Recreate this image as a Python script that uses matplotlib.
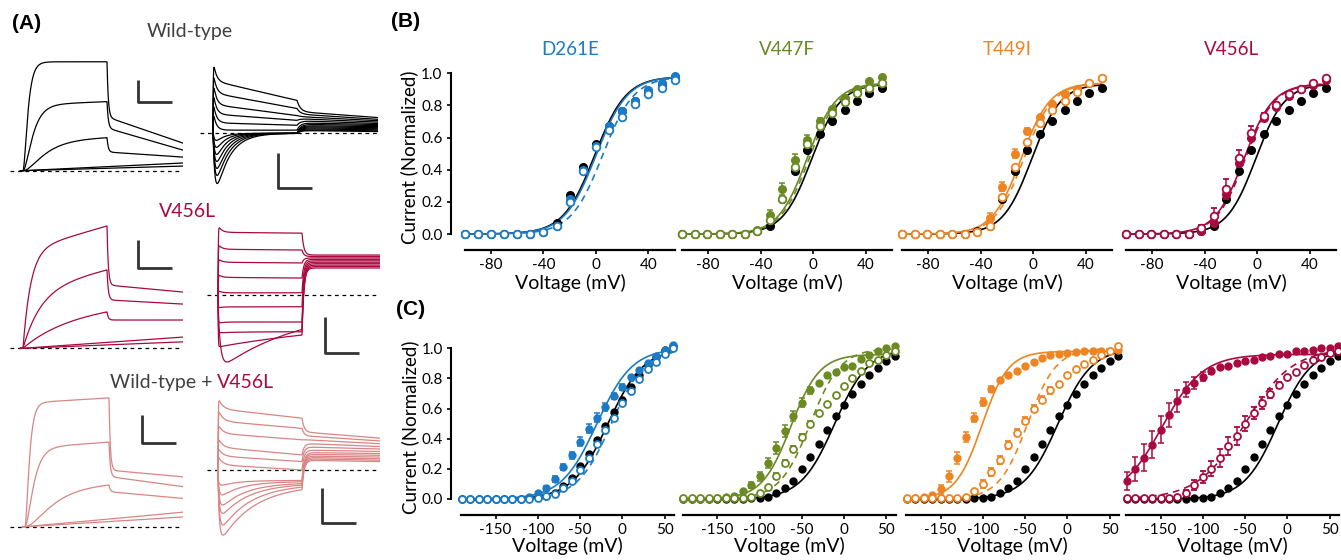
import numpy as np
import matplotlib.pyplot as plt

W, H = 1341, 560
plt.rcParams['font.family'] = ['Lato', 'DejaVu Sans']
plt.rcParams['axes.unicode_minus'] = False

BLUE = '#1b7bc4'
OLIVE = '#6b8a23'
ORANGE = '#ee8523'
CRIMSON = '#a80a40'
PINK = '#d98585'
GRAY = '#404040'

# ---------------- panel B: voltage steps (mV) and normalized currents ----------------
B_V_D261E = [-100, -90, -80, -70, -60, -50, -40, -30, -20, -10, 0, 10, 20, 30, 40, 50, 60]
B_V = [-99.5, -90, -80.5, -71, -61.5, -52, -42.5, -33, -23.5, -14, -4.5, 5, 14.5, 24, 33.5, 43, 52.5]

b_wt_d261e = [0, 0, 0, 0, 0, 0, 0.01, 0.066, 0.24, 0.42, 0.56, 0.67, 0.765, 0.83, 0.89, 0.935, 0.98]
b_wt = [0, 0, 0, 0, 0, 0, 0.02, 0.05, 0.22, 0.39, 0.52, 0.625, 0.705, 0.77, 0.825, 0.875, 0.91]

b_mut_d261e = [0, 0, 0, 0, 0, 0, 0.01, 0.05, 0.215, 0.40, 0.55, 0.675, 0.765, 0.83, 0.895, 0.94, 0.985]
b_het_d261e = [0, 0, 0, 0, 0, 0, 0.01, 0.05, 0.20, 0.39, 0.54, 0.647, 0.73, 0.81, 0.87, 0.91, 0.96]
b_mut_v447f = [0, 0, 0, 0, 0, 0, 0.025, 0.12, 0.28, 0.46, 0.585, 0.705, 0.78, 0.845, 0.905, 0.95, 0.98]
b_het_v447f = [0, 0, 0, 0, 0, 0, 0.02, 0.09, 0.22, 0.42, 0.56, 0.67, 0.755, 0.82, 0.875, 0.91, 0.94]
b_mut_t449i = [0, 0, 0, 0, 0, 0, 0.01, 0.10, 0.295, 0.50, 0.64, 0.73, 0.81, 0.87, 0.90, 0.94, 0.97]
b_het_t449i = [0, 0, 0, 0, 0, 0, 0.01, 0.05, 0.23, 0.42, 0.575, 0.69, 0.77, 0.83, 0.885, 0.94, 0.97]
b_mut_v456l = [0, 0, 0, 0, 0, 0, 0.02, 0.07, 0.25, 0.44, 0.60, 0.72, 0.79, 0.86, 0.90, 0.93, 0.96]
b_het_v456l = [0, 0, 0, 0, 0, 0, 0.035, 0.11, 0.28, 0.47, 0.63, 0.735, 0.80, 0.87, 0.905, 0.94, 0.97]

b_zero = [0] * 17
b_err_mut_v447f = [0, 0, 0, 0, 0, 0, 0, 0.03, 0.04, 0.04, 0.03, 0.015, 0, 0, 0, 0, 0]
b_err_mut_t449i = [0, 0, 0, 0, 0, 0, 0, 0.03, 0.03, 0.03, 0.02, 0, 0, 0, 0, 0, 0]
b_err_het_v456l = [0, 0, 0, 0, 0, 0, 0.02, 0.05, 0.06, 0.05, 0.04, 0.02, 0.02, 0, 0, 0, 0]

# Boltzmann fits: (V1/2, slope k, amplitude)
B_FIT_WT = [(-1, 12, 0.98), (-1, 11, 0.935), (-1, 11, 0.935), (-1, 11, 0.935)]
B_FIT_MUT = [(0, 12, 0.98), (-4.5, 11, 0.94), (-9, 11, 0.94), (-10, 11, 0.935)]
B_FIT_HET = [(5, 12, 0.98), (-3, 11, 0.935), (-7, 11, 0.94), (-9, 11, 0.935)]

# ---------------- panel C ----------------
C_V = [-190, -180, -170, -160, -150, -140, -130, -120, -110, -100, -90, -80, -70,
       -60, -50, -40, -30, -20, -10, 0, 10, 20, 30, 40, 50, 60]

c_wt_d261e = [0, 0, 0, 0, 0, 0, 0, 0, 0.005, 0.01, 0.02, 0.04, 0.085, 0.14, 0.22, 0.30,
              0.39, 0.485, 0.575, 0.66, 0.74, 0.82, 0.89, 0.945, 0.99, 1.015]
c_wt = [0, 0, 0, 0, 0, 0, 0, 0, 0.005, 0.005, 0.015, 0.04, 0.07, 0.12, 0.20, 0.28,
        0.365, 0.46, 0.55, 0.625, 0.70, 0.765, 0.82, 0.87, 0.915, 0.95]

c_mut_d261e = [0, 0, 0, 0, 0, 0, 0, 0, 0.015, 0.04, 0.07, 0.13, 0.21, 0.29, 0.38, 0.465,
               0.54, 0.61, 0.685, 0.74, 0.81, 0.855, 0.905, 0.95, 0.99, 1.02]
c_het_d261e = [0, 0, 0, 0, 0, 0, 0, 0, 0, 0.005, 0.02, 0.03, 0.07, 0.12, 0.19, 0.275,
               0.365, 0.455, 0.54, 0.635, 0.715, 0.795, 0.86, 0.91, 0.96, 1.0]
c_mut_v447f = [0, 0, 0, 0, 0.005, 0.01, 0.02, 0.05, 0.09, 0.15, 0.24, 0.34, 0.45, 0.55,
               0.64, 0.72, 0.77, 0.82, 0.845, 0.875, 0.885, 0.93, 0.955, 0.98, 1.0, 1.015]
c_het_v447f = [0.005, 0.005, 0.005, 0.005, 0.005, 0.005, 0.005, 0.005, 0.015, 0.04, 0.08,
               0.15, 0.24, 0.33, 0.41, 0.50, 0.57, 0.63, 0.69, 0.75, 0.80, 0.85, 0.90,
               0.925, 0.955, 0.985]
c_mut_t449i = [0, 0.005, 0.01, 0.025, 0.065, 0.15, 0.27, 0.41, 0.54, 0.645, 0.73, 0.79,
               0.82, 0.85, 0.88, 0.91, 0.935, 0.955, 0.965, 0.97, 0.975, 0.98, 0.98,
               0.98, 0.985, 0.99]
c_het_t449i = [0.005, 0.005, 0.005, 0.005, 0.005, 0.005, 0.005, 0.01, 0.05, 0.10, 0.18,
               0.26, 0.36, 0.44, 0.52, 0.60, 0.66, 0.72, 0.76, 0.82, 0.86, 0.895, 0.92,
               0.955, 0.985, 1.015]
c_mut_v456l = [0.12, 0.20, 0.275, 0.36, 0.46, 0.56, 0.65, 0.725, 0.77, 0.81, 0.85, 0.875,
               0.885, 0.90, 0.915, 0.925, 0.94, 0.95, 0.96, 0.965, 0.98, 0.98, 0.99, 1.0,
               1.005, 1.015]
c_het_v456l = [0.005, 0.005, 0.005, 0.005, 0.005, 0.005, 0.015, 0.037, 0.093, 0.144, 0.20,
               0.27, 0.35, 0.42, 0.50, 0.573, 0.635, 0.70, 0.757, 0.81, 0.845, 0.89,
               0.92, 0.945, 0.967, 0.98]

c_zero = [0] * 26
c_err_mut_d261e = [0, 0, 0, 0, 0, 0, 0, 0, 0, 0, 0.015, 0.02, 0.02, 0.025, 0.03, 0.03,
                   0.03, 0.025, 0.02, 0.02, 0, 0, 0, 0, 0, 0]
c_err_mut_v447f = [0, 0, 0, 0, 0, 0, 0, 0.01, 0.02, 0.03, 0.035, 0.04, 0.04, 0.035, 0.03,
                   0.02, 0, 0, 0, 0, 0, 0, 0, 0, 0, 0]
c_err_het_v447f = [0, 0, 0, 0, 0, 0, 0, 0, 0, 0, 0, 0.02, 0.02, 0.02, 0.02, 0.02, 0, 0,
                   0, 0, 0, 0, 0, 0, 0, 0]
c_err_mut_t449i = [0, 0, 0, 0, 0.03, 0.035, 0.04, 0.035, 0.03, 0.025, 0.02, 0, 0, 0, 0,
                   0, 0, 0, 0, 0, 0, 0, 0, 0, 0, 0]
c_err_het_t449i = [0, 0, 0, 0, 0, 0, 0, 0, 0, 0.025, 0.025, 0.025, 0.025, 0.025, 0.025,
                   0.025, 0.025, 0.025, 0, 0, 0, 0, 0, 0, 0, 0]
c_err_mut_v456l = [0.06, 0.08, 0.09, 0.09, 0.09, 0.08, 0.07, 0.05, 0.04, 0.03, 0.02, 0,
                   0, 0, 0, 0, 0, 0, 0, 0, 0, 0, 0, 0, 0, 0]
c_err_het_v456l = [0, 0, 0, 0, 0, 0, 0, 0.02, 0.03, 0.04, 0.05, 0.06, 0.06, 0.06, 0.05,
                   0.04, 0.04, 0.03, 0.02, 0, 0, 0, 0, 0, 0, 0]

C_FIT_WT = [(-17, 21, 1.0), (-11, 20, 1.0), (-11, 20, 1.0), (-11, 20, 1.0)]
C_FIT_MUT = [(-30, 21, 1.0), (-63, 17, 0.96), (-101, 15.5, 0.98), (-148, 24, 0.96)]
C_FIT_HET = [(-13, 20, 1.0), (-40, 18, 1.0), (-47, 17, 1.0), (-50, 28, 1.0)]

MUTANTS = ['D261E', 'V447F', 'T449I', 'V456L']
MUT_COLORS = [BLUE, OLIVE, ORANGE, CRIMSON]

# ---------------- panel A: current traces (nA, ms) ----------------
# activation family: amplitude at end of 1 s step, tau (ms), power, creep, tail start, tail end
wt_act_amp = [4.95, 3.14, 1.50, 0.18, 0.11]
wt_act_tau = [45, 90, 200, 1e5, 1e5]
wt_act_pow = [2, 2, 2, 1, 1]
wt_act_creep = [0.0, 0.05, 0.1, 0, 0]
wt_act_tail0 = [2.44, 1.94, 0.85, 0.18, 0.11]
wt_act_tail1 = [1.26, 0.94, 0.62, 0.35, 0.21]

mu_act_amp = [4.37, 2.80, 1.30, 0.21, 0.12]
mu_act_tau = [90, 200, 450, 1e5, 1e5]
mu_act_pow = [1, 1, 1, 1, 1]
mu_act_creep = [0.2, 0.25, 0.2, 0, 0]
mu_act_tail0 = [2.26, 1.73, 1.01, 0.21, 0.12]
mu_act_tail1 = [2.01, 1.58, 1.01, 0.40, 0.23]

co_act_amp = [4.60, 3.02, 1.49, 0.27, 0.18]
co_act_tau = [40, 80, 250, 1e5, 1e5]
co_act_pow = [2, 2, 2, 1, 1]
co_act_creep = [0.04, 0.07, 0.1, 0, 0]
co_act_tail0 = [2.02, 1.79, 1.25, 0.27, 0.18]
co_act_tail1 = [1.78, 1.43, 1.01, 0.52, 0.35]

# deactivation family: initial current, step level start/end, rise and decay tau, tail level start/end
wt_deact_i0 = [2.03, 1.71, 1.43, 1.14, 0.86, 0.57, -0.2, -0.4, -0.6, -0.8, -1.0, -1.2, -1.43]
wt_deact_sa = [1.50, 1.15, 0.82, 0.55, 0.30, 0.09, 0, 0, 0, 0, 0, 0, 0]
wt_deact_sb = [0.94, 0.71, 0.51, 0.37, 0.23, 0.09, 0, 0, 0, 0, 0, 0, 0]
wt_deact_tr = [1, 1, 1, 1, 1, 1, 25, 25, 25, 25, 25, 25, 25]
wt_deact_td = [35, 35, 35, 35, 35, 35, 100, 110, 120, 130, 140, 150, 160]
wt_deact_L0 = [0.62, 0.55, 0.48, 0.42, 0.36, 0.30, 0.26, 0.22, 0.19, 0.16, 0.13, 0.10, 0.08]
wt_deact_L1 = [0.45, 0.40, 0.36, 0.32, 0.28, 0.25, 0.22, 0.19, 0.16, 0.13, 0.10, 0.07, 0.05]

mu_deact_i0 = [1.92, 1.40, 1.00, 0.56, 0.12, -0.36, -0.78, -1.05, -1.44, -1.86]
mu_deact_sa = [1.74, 1.27, 0.91, 0.49, 0.06, -0.33, -0.75, -1.02, -0.6, -0.3]
mu_deact_sb = [1.72, 1.25, 0.89, 0.47, 0.06, -0.33, -0.75, -1.02, -0.6, -0.3]
mu_deact_tr = [1, 1, 1, 1, 1, 1, 1, 1, 1, 30]
mu_deact_td = [40, 40, 40, 40, 40, 40, 60, 300, 2000, 1000]
mu_deact_L0 = [1.11, 1.07, 1.03, 0.99, 0.95, 0.91, 0.87, 0.83, 0.79, 0.75]
mu_deact_L1 = [1.11, 1.07, 1.03, 0.99, 0.95, 0.91, 0.87, 0.83, 0.79, 0.75]

co_deact_i0 = [2.05, 1.71, 1.29, 0.90, 0.62, 0.38, -0.43, -0.71, -1.0, -1.24, -1.57, -1.86]
co_deact_sa = [1.75, 1.40, 1.05, 0.65, 0.40, 0.15, -0.30, -0.33, -0.36, -0.38, -0.40, -0.42]
co_deact_sb = [1.48, 1.19, 0.86, 0.43, 0.24, 0.0, -0.30, -0.33, -0.36, -0.38, -0.40, -0.42]
co_deact_tr = [1, 1, 1, 1, 1, 1, 20, 20, 20, 20, 20, 20]
co_deact_td = [50, 50, 50, 50, 50, 50, 200, 250, 300, 330, 360, 400]
co_deact_L0 = [1.09, 0.98, 0.87, 0.76, 0.66, 0.57, 0.50, 0.45, 0.40, 0.36, 0.32, 0.28]
co_deact_L1 = [0.91, 0.83, 0.75, 0.67, 0.60, 0.53, 0.47, 0.42, 0.37, 0.32, 0.28, 0.24]

STEP_MS = 1000
PX_PER_MS = 0.084


def boltz(v, vh, k, a):
    return a / (1 + np.exp((vh - v) / k))


def act_trace(t, amp, tau, pw, creep, tail0, tail1, tend):
    tt = np.clip(t, 0, STEP_MS)
    r = (1 - np.exp(-tt / tau)) ** pw
    rT = (1 - np.exp(-STEP_MS / tau)) ** pw
    step = amp * r / rT * (1 - creep * (1 - tt / STEP_MS))
    lin = tail0 + (tail1 - tail0) * (t - STEP_MS) / (tend - STEP_MS)
    post = lin + (amp - tail0) * np.exp(-(t - STEP_MS) / 15)
    out = np.where(t > STEP_MS, post, step)
    return np.where(t < 0, 0, out)


def deact_trace(t, i0, sa, sb, tr, td, L0, L1, tend, tau_tail=30):
    def step_val(tt):
        s = sa + (sb - sa) * tt / STEP_MS
        shape = (1 - np.exp(-tt / tr)) * np.exp(-tt / td)
        tm = tr * td / (td - tr) * np.log(td / tr)
        smax = (1 - np.exp(-tm / tr)) * np.exp(-tm / td)
        return (s + (i0 - sa) * shape / smax) * (1 - np.exp(-tt / 3))
    tt = np.clip(t, 0, STEP_MS)
    iT = step_val(STEP_MS)
    lin = L0 + (L1 - L0) * (t - STEP_MS) / (tend - STEP_MS)
    post = lin + (iT - L0) * np.exp(-(t - STEP_MS) / tau_tail)
    return np.where(t > STEP_MS, post, step_val(tt))


fig = plt.figure(figsize=(W / 100, H / 100), dpi=100)


def trace_axes(x0, y0, pna, tlim, ilim):
    left = x0 + tlim[0] * PX_PER_MS
    right = x0 + tlim[1] * PX_PER_MS
    top = y0 - ilim[1] * pna
    bottom = y0 - ilim[0] * pna
    ax = fig.add_axes([left / W, 1 - bottom / H, (right - left) / W, (bottom - top) / H])
    ax.set_xlim(tlim)
    ax.set_ylim(ilim)
    ax.axis('off')
    return ax


def scale_bar(ax, t, i, dt=400, di=1.0):
    ax.plot([t, t, t + dt], [i + di, i, i], color='#333333', lw=2,
            solid_capstyle='butt', clip_on=False)


def draw_act(ax, color, amps, taus, pows, creeps, t0s, t1s, tstart, tend, bar):
    t = np.linspace(-30, tend, 2500)
    ax.plot([tstart, tend], [0, 0], color='k', lw=0.9, ls=(0, (3, 3)))
    for a, tau, pw, c, l0, l1 in zip(amps, taus, pows, creeps, t0s, t1s):
        ax.plot(t, act_trace(t, a, tau, pw, c, l0, l1, tend), color=color, lw=0.9)
    scale_bar(ax, *bar)


def draw_deact(ax, color, i0s, sas, sbs, trs, tds, L0s, L1s, tstart, tend, bar, tau_tail):
    t = np.linspace(0, tend, 3000)
    ax.plot([tstart, tend], [0, 0], color='k', lw=0.9, ls=(0, (3, 3)))
    for i0, sa, sb, tr, td, l0, l1 in zip(i0s, sas, sbs, trs, tds, L0s, L1s):
        ax.plot(t, deact_trace(t, i0, sa, sb, tr, td, l0, l1, tend, tau_tail),
                color=color, lw=0.9)
    scale_bar(ax, *bar)


# row 1: wild-type
ax = trace_axes(23, 170.7, 22, (-160, 1900), (-0.3, 5.3))
draw_act(ax, 'k', wt_act_amp, wt_act_tau, wt_act_pow, wt_act_creep, wt_act_tail0,
         wt_act_tail1, -155, 1900, (1369, 3.12))
ax = trace_axes(213, 133.3, 35, (-160, 1960), (-1.7, 2.2))
draw_deact(ax, 'k', wt_deact_i0, wt_deact_sa, wt_deact_sb, wt_deact_tr, wt_deact_td,
           wt_deact_L0, wt_deact_L1, -155, 1960, (774, -1.56), 40)

# row 2: V456L
ax = trace_axes(23, 348.3, 28, (-160, 1900), (-0.3, 4.6))
draw_act(ax, CRIMSON, mu_act_amp, mu_act_tau, mu_act_pow, mu_act_creep, mu_act_tail0,
         mu_act_tail1, -155, 1900, (1369, 2.87))
ax = trace_axes(218, 295, 36, (-130, 1930), (-2.0, 2.1))
draw_deact(ax, CRIMSON, mu_deact_i0, mu_deact_sa, mu_deact_sb, mu_deact_tr, mu_deact_td,
           mu_deact_L0, mu_deact_L1, -131, 1930, (1274, -1.61), 22)

# row 3: wild-type + V456L
ax = trace_axes(25, 526.7, 28, (-180, 1880), (-0.3, 4.8))
draw_act(ax, PINK, co_act_amp, co_act_tau, co_act_pow, co_act_creep, co_act_tail0,
         co_act_tail1, -178, 1880, (1393, 2.99))
ax = trace_axes(218, 470, 35, (-130, 1930), (-2.0, 2.2))
draw_deact(ax, PINK, co_deact_i0, co_deact_sa, co_deact_sb, co_deact_tr, co_deact_td,
           co_deact_L0, co_deact_L1, -131, 1930, (1238, -1.51), 25)

fig.text(190 / W, 1 - 37.5 / H, 'Wild-type', ha='center', va='baseline',
         fontsize=14, color=GRAY)
fig.text(188 / W, 1 - 217 / H, 'V456L', ha='center', va='baseline',
         fontsize=14, color=CRIMSON)
fig.text(212 / W, 1 - 388 / H, 'Wild-type +', ha='right', va='baseline',
         fontsize=14, color=GRAY)
fig.text(217 / W, 1 - 388 / H, 'V456L', ha='left', va='baseline',
         fontsize=14, color=CRIMSON)

for lab, x, y in [('(A)', 12, 14), ('(B)', 391, 12), ('(C)', 396, 300)]:
    fig.text(x / W, 1 - y / H, lab, ha='left', va='top', fontsize=15,
             fontweight='bold', family=['Liberation Sans', 'DejaVu Sans'])


# ---------------- panels B and C ----------------
def iv_axes(zero, px_mv, xlim, y0, y1, spine):
    ppu = y0 - y1
    ylo = -(spine - y0) / ppu
    yhi = 1.06
    left = zero + xlim[0] * px_mv
    right = zero + xlim[1] * px_mv
    top = y0 - yhi * ppu
    ax = fig.add_axes([left / W, 1 - spine / H, (right - left) / W, (spine - top) / H])
    ax.set_xlim(xlim)
    ax.set_ylim(ylo, yhi)
    for s in ['top', 'right']:
        ax.spines[s].set_visible(False)
    ax.spines['bottom'].set_linewidth(1.6)
    ax.tick_params(axis='both', direction='out', length=3, width=1.2,
                   labelsize=11, pad=3)
    return ax


def style_y(ax, offset):
    ax.spines['left'].set_bounds(0, 1)
    ax.spines['left'].set_position(('outward', offset))
    ax.spines['left'].set_linewidth(1.5)
    ax.set_yticks([0, 0.2, 0.4, 0.6, 0.8, 1.0])
    ax.set_yticklabels(['0.0', '0.2', '0.4', '0.6', '0.8', '1.0'])
    ax.set_ylabel('Current (Normalized)', fontsize=13.5, labelpad=2)


def draw_iv(ax, v, wt, mut, het, err_mut, err_het, fits, color, vrange, ms):
    vv = np.linspace(vrange[0], vrange[1], 300)
    fw, fm, fh = fits
    ax.plot(vv, boltz(vv, *fw), color='k', lw=1.2, zorder=2)
    ax.plot(vv, boltz(vv, *fh), color=color, lw=1.2, ls=(0, (4, 3)), zorder=2)
    ax.plot(vv, boltz(vv, *fm), color=color, lw=1.2, zorder=2)
    ax.plot(v, wt, 'o', color='k', ms=ms, zorder=3, clip_on=False)
    ax.errorbar(v, mut, yerr=err_mut, fmt='o', color=color, ms=ms, capsize=2.5,
                elinewidth=1.1, capthick=1.1, zorder=4, clip_on=False)
    ax.errorbar(v, het, yerr=err_het, fmt='o', color=color, mfc='white', mec=color,
                mew=1.3, ms=ms, capsize=2.5, elinewidth=1.1, capthick=1.1, zorder=5,
                clip_on=False)


B_ZERO = [596, 813, 1033, 1257]
C_ZERO = [622.3, 844, 1067.3, 1287.3]

b_sets = [
    (B_V_D261E, b_wt_d261e, b_mut_d261e, b_het_d261e, b_zero, b_zero),
    (B_V, b_wt, b_mut_v447f, b_het_v447f, b_err_mut_v447f, b_zero),
    (B_V, b_wt, b_mut_t449i, b_het_t449i, b_err_mut_t449i, b_zero),
    (B_V, b_wt, b_mut_v456l, b_het_v456l, b_zero, b_err_het_v456l),
]
c_sets = [
    (C_V, c_wt_d261e, c_mut_d261e, c_het_d261e, c_err_mut_d261e, c_zero),
    (C_V, c_wt, c_mut_v447f, c_het_v447f, c_err_mut_v447f, c_err_het_v447f),
    (C_V, c_wt, c_mut_t449i, c_het_t449i, c_err_mut_t449i, c_err_het_t449i),
    (C_V, c_wt, c_mut_v456l, c_het_v456l, c_err_mut_v456l, c_err_het_v456l),
]

for i in range(4):
    color = MUT_COLORS[i]
    # panel B
    ax = iv_axes(B_ZERO[i], 1.3125, (-100, 60.5), 234, 73.3, 250)
    v, wt, mut, het, em, eh = b_sets[i]
    draw_iv(ax, v, wt, mut, het, em, eh, (B_FIT_WT[i], B_FIT_MUT[i], B_FIT_HET[i]),
            color, (v[0], v[-1]), 5.5)
    ax.set_xticks([-80, -40, 0, 40])
    ax.set_xticklabels(['-80', '-40', '0', '40'])
    ax.set_xlabel('Voltage (mV)', fontsize=14, labelpad=1)
    ax.set_title(MUTANTS[i], color=color, fontsize=13.5, pad=6)
    if i == 0:
        style_y(ax, 10)
    else:
        ax.spines['left'].set_visible(False)
        ax.set_yticks([])

    # panel C
    ax = iv_axes(C_ZERO[i], 0.845, (-191, 61), 499, 348.3, 515)
    v, wt, mut, het, em, eh = c_sets[i]
    draw_iv(ax, v, wt, mut, het, em, eh, (C_FIT_WT[i], C_FIT_MUT[i], C_FIT_HET[i]),
            color, (v[0], v[-1]), 5)
    ax.set_xticks([-150, -100, -50, 0, 50])
    ax.set_xticklabels(['-150', '-100', '-50', '0', '50'])
    ax.set_xlabel('Voltage (mV)', fontsize=14, labelpad=0)
    if i == 0:
        style_y(ax, 7)
    else:
        ax.spines['left'].set_visible(False)
        ax.set_yticks([])

fig.savefig('out.png', dpi=100)
